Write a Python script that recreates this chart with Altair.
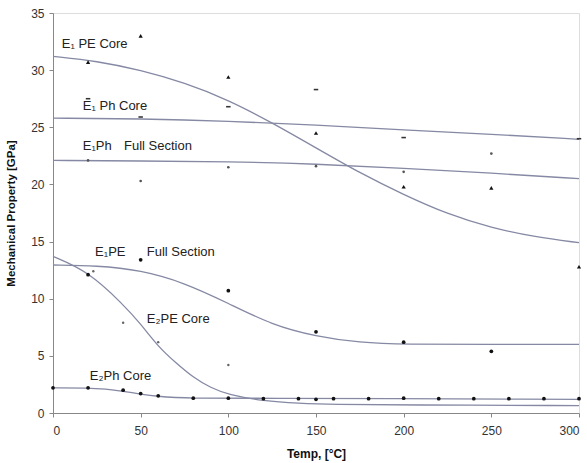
import altair as alt
import pandas as pd

# ---------------- data ----------------
pe_core_x = [20, 50, 100, 150, 200, 250, 300]
pe_core_y = [30.7, 33.0, 29.4, 24.5, 19.8, 19.7, 12.8]

ph_core_x = [20, 50, 100, 150, 200, 300]
ph_core_y = [27.5, 25.9, 26.8, 28.3, 24.1, 24.0]

ph_full_x = [20, 50, 100, 150, 200, 250]
ph_full_y = [22.1, 20.3, 21.5, 21.6, 21.1, 22.7]

pe_full_x = [20, 50, 100, 150, 200, 250]
pe_full_y = [12.1, 13.4, 10.7, 7.1, 6.2, 5.4]

e2pe_x = [23, 40, 60, 100]
e2pe_y = [12.4, 7.9, 6.2, 4.2]

e2ph_x = [0, 20, 40, 50, 60, 80, 100, 120, 140, 150, 160, 180, 200, 220, 240, 260, 280, 300]
e2ph_y = [2.2, 2.2, 2.0, 1.7, 1.5, 1.3, 1.3, 1.25, 1.25, 1.2, 1.25, 1.25, 1.3, 1.25, 1.25, 1.25, 1.25, 1.25]

# fitted curves (as drawn)
c_pe_core_x = [0, 25, 50, 75, 100, 125, 150, 175, 200, 225, 250, 275, 300]
c_pe_core_y = [31.2, 30.8, 30.0, 28.9, 27.4, 25.4, 23.2, 21.0, 19.1, 17.4, 16.2, 15.4, 14.9]

c_ph_core_x = [0, 50, 100, 150, 200, 250, 300]
c_ph_core_y = [25.8, 25.75, 25.55, 25.2, 24.75, 24.4, 23.95]

c_ph_full_x = [0, 50, 100, 150, 200, 250, 300]
c_ph_full_y = [22.1, 22.05, 22.0, 21.8, 21.4, 21.0, 20.5]

c_pe_full_x = [0, 25, 50, 75, 100, 125, 150, 175, 200, 250, 300]
c_pe_full_y = [12.95, 12.9, 12.5, 11.4, 9.6, 7.7, 6.7, 6.15, 6.0, 6.0, 6.0]

c_e2pe_x = [0, 20, 40, 50, 60, 70, 80, 90, 100, 120, 140, 160, 200, 300]
c_e2pe_y = [13.7, 12.4, 9.5, 7.8, 5.8, 4.4, 3.1, 2.2, 1.6, 1.05, 0.85, 0.75, 0.7, 0.65]

c_e2ph_x = [0, 20, 30, 40, 50, 60, 70, 80, 100, 300]
c_e2ph_y = [2.2, 2.2, 2.1, 1.9, 1.65, 1.45, 1.35, 1.3, 1.3, 1.2]

label_text = ["E\u2081 PE Core", "E\u2081 Ph Core", "E\u2081Ph", "Full Section",
              "E\u2081PE", "Full Section", "E\u2082PE Core", "E\u2082Ph Core"]
label_x = [5, 17, 17, 40.5, 24, 53.5, 53.5, 21]
label_y = [32.3, 26.9, 23.4, 23.4, 14.1, 14.1, 8.2, 3.2]

# ---------------- build tables ----------------
def tbl(xs_, ys_):
    return pd.DataFrame({"x": xs_, "y": ys_})

xs = alt.Scale(domain=[0, 300], nice=False)
ys = alt.Scale(domain=[0, 35], nice=False)

x_axis = alt.Axis(values=[0, 50, 100, 150, 200, 250, 300], grid=False, title="Temp, [\u00b0C]",
                  labelFont="Liberation Sans", labelFontSize=12, labelColor="#333333",
                  titleFont="Liberation Sans", titleFontSize=12, titleFontWeight="bold",
                  titleColor="#111111", domainColor="#888888", tickColor="#888888",
                  tickSize=4, labelPadding=8, titlePadding=12)
y_axis = alt.Axis(values=[0, 5, 10, 15, 20, 25, 30, 35], grid=False,
                  title="Mechanical Property [GPa]",
                  labelFont="Liberation Sans", labelFontSize=12, labelColor="#333333",
                  titleFont="Liberation Sans", titleFontSize=11.5, titleFontWeight="bold",
                  titleColor="#111111", domainColor="#888888", tickColor="#888888",
                  tickSize=4, labelPadding=5, titlePadding=14)

enc_x = alt.X("x:Q", scale=xs, axis=x_axis)
enc_y = alt.Y("y:Q", scale=ys, axis=y_axis)

curve_sets = [(c_pe_core_x, c_pe_core_y), (c_ph_core_x, c_ph_core_y),
              (c_ph_full_x, c_ph_full_y), (c_pe_full_x, c_pe_full_y),
              (c_e2pe_x, c_e2pe_y), (c_e2ph_x, c_e2ph_y)]

layers = []
for cx, cy in curve_sets:
    layers.append(alt.Chart(tbl(cx, cy)).mark_line(
        color="#8589a3", strokeWidth=1.3, interpolate="basis").encode(x=enc_x, y=enc_y))

dash = "M-1,-0.35H1V0.35H-1Z"
point_sets = [
    (pe_core_x, pe_core_y, "triangle-up", 18, "#111111"),
    (ph_core_x, ph_core_y, dash, 20, "#333333"),
    (ph_full_x, ph_full_y, "circle", 7, "#555555"),
    (pe_full_x, pe_full_y, "circle", 14, "#111111"),
    (e2pe_x, e2pe_y, "circle", 6, "#666666"),
    (e2ph_x, e2ph_y, "circle", 14, "#111111"),
]
for px, py, shp, sz, col in point_sets:
    layers.append(alt.Chart(tbl(px, py)).mark_point(
        filled=True, opacity=1, shape=shp, size=sz, color=col).encode(x=enc_x, y=enc_y))

labels = pd.DataFrame({"t": label_text, "x": label_x, "y": label_y})
layers.append(alt.Chart(labels).mark_text(align="left", baseline="middle", font="Liberation Sans",
                                          fontSize=13, color="#222222").encode(
    x=enc_x, y=enc_y, text="t:N"))

chart = alt.layer(*layers).properties(
    width=526, height=400,
    autosize=alt.AutoSizeParams(type="none"),
    padding={"left": 53, "top": 13, "right": 8, "bottom": 50},
).configure_view(stroke=None).configure(background="white")

chart.save("out.html", embed_options={"renderer": "svg", "actions": False})
